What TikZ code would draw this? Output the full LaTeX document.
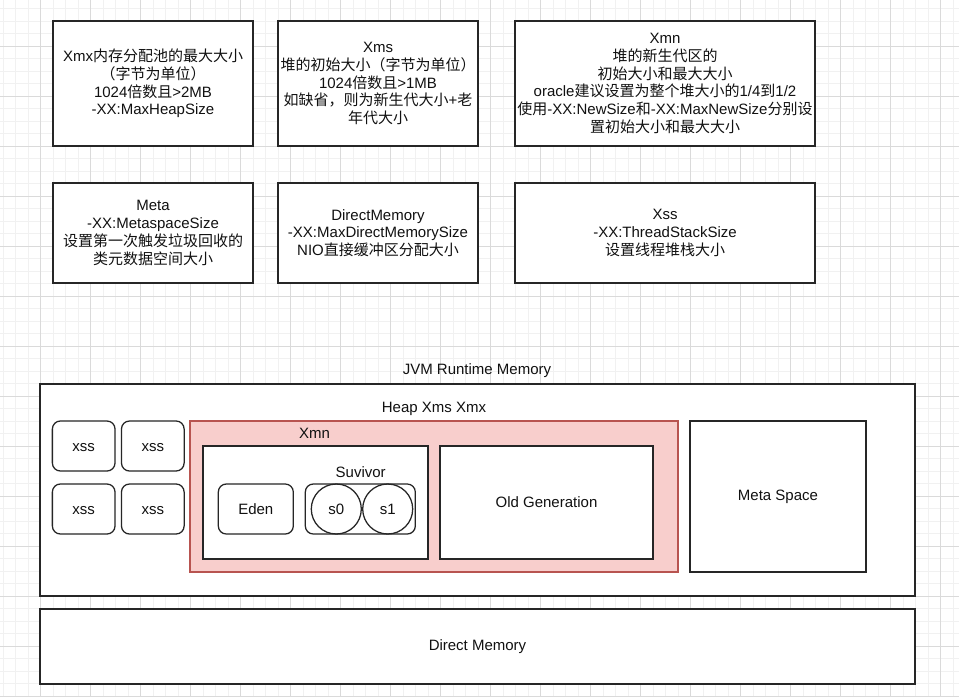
\documentclass[tikz,border=0pt]{standalone}
\usepackage{fontspec}
\setmainfont{Liberation Sans}
\newfontfamily\zhfont{Noto Sans CJK SC}
\newcommand\zhtxt[1]{{\zhfont #1}}
\definecolor{gridminor}{RGB}{241,241,241}
\definecolor{gridmajor}{RGB}{218,218,218}
\definecolor{heapfill}{HTML}{F8CECC}
\definecolor{heapline}{HTML}{B85450}
\definecolor{edge}{HTML}{262626}
\definecolor{ink}{HTML}{111111}

\begin{document}
\begin{tikzpicture}[x=0.75pt,y=-0.75pt,
  every node/.style={font=\fontsize{11.25pt}{13.3pt}\selectfont, text=ink},
  panel/.style={draw=edge, line width=0.95pt, fill=white, align=center, inner sep=0pt},
  rpanel/.style={panel, rounded corners=6pt},
  capline/.style={text height=8pt, text depth=0pt},
  heap/.style={draw=heapline, line width=0.95pt, fill=heapfill, inner sep=0pt},
  lbl/.style={inner sep=0pt},
  minorline/.style={gridminor, line width=0.75pt},
  majorline/.style={gridmajor, line width=0.75pt}]

\useasboundingbox (0,0) rectangle (959,697);
\fill[white] (0,0) rectangle (959,697);

% background grid
\foreach \i in {0,...,76} \draw[minorline] ({3+12.5*\i},0) -- ({3+12.5*\i},697);
\foreach \i in {0,...,55} \draw[minorline] (0,{8.5+12.5*\i}) -- (959,{8.5+12.5*\i});
\foreach \i in {0,...,18} \draw[majorline] ({40.5+50*\i},0) -- ({40.5+50*\i},697);
\foreach \i in {0,...,13} \draw[majorline] (0,{46+50*\i}) -- (959,{46+50*\i});

% parameter notes, first row
\node[panel, minimum width=150pt, minimum height=93.75pt] (xmx) at (153,83.5)
  {Xmx\zhtxt{内存分配池的最大大小}\\\zhtxt{（字节为单位）}\\1024\zhtxt{倍数且}>2MB\\-XX:MaxHeapSize};
\node[panel, minimum width=150pt, minimum height=93.75pt] (xms) at (378,83.5)
  {Xms\\\zhtxt{堆的初始大小（字节为单位）}\\1024\zhtxt{倍数且}>1MB\\\zhtxt{如缺省，则为新生代大小}+\zhtxt{老}\\\zhtxt{年代大小}};
\node[panel, minimum width=225pt, minimum height=93.75pt] (xmn) at (665,83.5)
  {Xmn\\\zhtxt{堆的新生代区的}\\\zhtxt{初始大小和最大大小}\\oracle\zhtxt{建议设置为整个堆大小的}1/4\zhtxt{到}1/2\\\zhtxt{使用}-XX:NewSize\zhtxt{和}-XX:MaxNewSize\zhtxt{分别设}\\\zhtxt{置初始大小和最大大小}};

% parameter notes, second row
\node[panel, minimum width=150pt, minimum height=75pt] (meta) at (153,233)
  {Meta\\-XX:MetaspaceSize\\\zhtxt{设置第一次触发垃圾回收的}\\\zhtxt{类元数据空间大小}};
\node[panel, minimum width=150pt, minimum height=75pt] (direct) at (378,233)
  {DirectMemory\\-XX:MaxDirectMemorySize\\NIO\zhtxt{直接缓冲区分配大小}};
\node[panel, minimum width=225pt, minimum height=75pt] (xss) at (665,233)
  {Xss\\-XX:ThreadStackSize\\\zhtxt{设置线程堆栈大小}};

% runtime memory layout
\node[lbl] (jvmlbl) at (477,371) {JVM Runtime Memory};
\node[panel, minimum width=656.25pt, minimum height=159pt] (jvm) at (477.5,490) {};
\node[lbl] (heaplbl) at (434,409) {Heap Xms Xmx};

\node[rpanel, capline, minimum width=47pt, minimum height=37.5pt] (xssa) at (83.7,446) {xss};
\node[rpanel, capline, minimum width=47pt, minimum height=37.5pt] (xssb) at (152.8,446) {xss};
\node[rpanel, capline, minimum width=47pt, minimum height=37.5pt] (xssc) at (83.7,509) {xss};
\node[rpanel, capline, minimum width=47pt, minimum height=37.5pt] (xssd) at (152.8,509) {xss};

\node[heap, minimum width=366pt, minimum height=113.25pt] (heapbox) at (434,496.5) {};
\node[lbl] (xmnlbl) at (314.5,433.5) {Xmn};
\node[panel, minimum width=168.75pt, minimum height=84.75pt] (young) at (315.5,502.5) {};
\node[panel, minimum width=159.75pt, minimum height=84.75pt] (old) at (546.5,502.5) {Old Generation};
\node[panel, minimum width=132pt, minimum height=113.25pt] (metaspace) at (778,496.5) {Meta Space};

\node[rpanel, minimum width=56.25pt, minimum height=37.5pt] (eden) at (255.8,509) {Eden};
\node[lbl] (survlbl) at (360.7,471.7) {Suvivor};
\node[rpanel, minimum width=82.5pt, minimum height=37.5pt] (survivor) at (360.3,509) {};
\node[panel, capline, circle, minimum size=37.5pt, fill=none] (s0) at (336.3,509) {s0};
\node[panel, capline, circle, minimum size=37.5pt, fill=none] (s1) at (387.7,509) {s1};

\node[panel, minimum width=656.25pt, minimum height=56.25pt] (directmem) at (477.5,646.5) {Direct Memory};
\end{tikzpicture}
\end{document}
